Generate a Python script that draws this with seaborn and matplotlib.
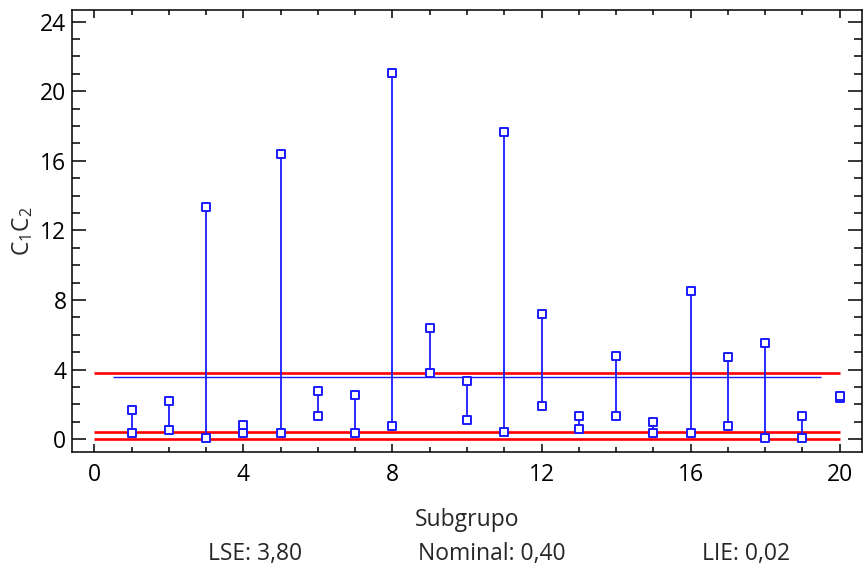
import numpy as np
import pandas as pd
import matplotlib
matplotlib.use("Agg")
import matplotlib.pyplot as plt
import seaborn as sns
from matplotlib.ticker import MultipleLocator

# ---- data ----
subgroups = list(range(1, 21))
c_low = [0.34, 0.53, 0.09, 0.38, 0.34, 1.34, 0.34, 0.76, 3.83, 1.11,
         0.42, 1.90, 0.57, 1.34, 0.34, 0.34, 0.76, 0.09, 0.09, 2.35]
c_high = [1.68, 2.22, 13.35, 0.82, 16.40, 2.78, 2.56, 21.05, 6.38, 3.35,
          17.66, 7.18, 1.34, 4.80, 0.99, 8.52, 4.71, 5.53, 1.34, 2.50]
lse = 3.80
nominal = 0.40
lie = 0.02
center = 3.6
x_ticks = [0, 4, 8, 12, 16, 20]
y_ticks = [0, 4, 8, 12, 16, 20, 24]

df = pd.DataFrame({
    "Subgrupo": subgroups * 2,
    "C1C2": c_low + c_high,
})

sns.set_style("ticks")
plt.rcParams["font.family"] = ["Open Sans", "DejaVu Sans"]
plt.rcParams["mathtext.fontset"] = "custom"
plt.rcParams["mathtext.rm"] = "Open Sans"
plt.rcParams["mathtext.it"] = "Open Sans"

fig = plt.figure(figsize=(8.66, 5.8), dpi=100)
ax = fig.add_axes([0.0831, 0.2207, 0.9123, 0.7621])

blue = "#1a1aff"
red = "#ff0000"

# reference lines
ax.hlines([lse, nominal, lie], 0, 20, color=red, lw=1.9, zorder=2)
ax.hlines(center, 0.5, 19.5, color=blue, lw=1.0, zorder=2)

# vertical connectors
ax.vlines(subgroups, c_low, c_high, color=blue, lw=1.3, zorder=3)

sns.scatterplot(data=df, x="Subgrupo", y="C1C2", ax=ax, marker="s",
                s=34, facecolor="white", edgecolor=blue, linewidth=1.4,
                zorder=4, legend=False)

ax.set_xlim(-0.6, 20.6)
ax.set_ylim(-0.73, 24.67)
ax.set_xticks(x_ticks)
ax.set_yticks(y_ticks)
ax.xaxis.set_minor_locator(MultipleLocator(1))
ax.yaxis.set_minor_locator(MultipleLocator(1))

ax.tick_params(axis="both", which="both", direction="in", top=True,
               right=True, width=1.1, color="black", labelsize=16.5,
               labelcolor="black")
ax.tick_params(axis="x", which="major", length=6, pad=8)
ax.tick_params(axis="x", which="minor", length=3.5)
ax.tick_params(axis="y", which="major", length=10, pad=4)
ax.tick_params(axis="y", which="minor", length=6)

for sp in ax.spines.values():
    sp.set_visible(True)
    sp.set_linewidth(1.1)
    sp.set_color("black")

ax.set_xlabel("Subgrupo", fontsize=16.5, labelpad=15)
ax.set_ylabel(r"C$_{1}$C$_{2}$", fontsize=16.5, labelpad=4)

fig.text(0.294, 0.045, f"LSE: {lse:.2f}".replace(".", ","), ha="center",
         va="center", fontsize=16.5)
fig.text(0.568, 0.045, f"Nominal: {nominal:.2f}".replace(".", ","),
         ha="center", va="center", fontsize=16.5)
fig.text(0.861, 0.045, f"LIE: {lie:.2f}".replace(".", ","), ha="center",
         va="center", fontsize=16.5)

fig.savefig("out.png", dpi=100)
